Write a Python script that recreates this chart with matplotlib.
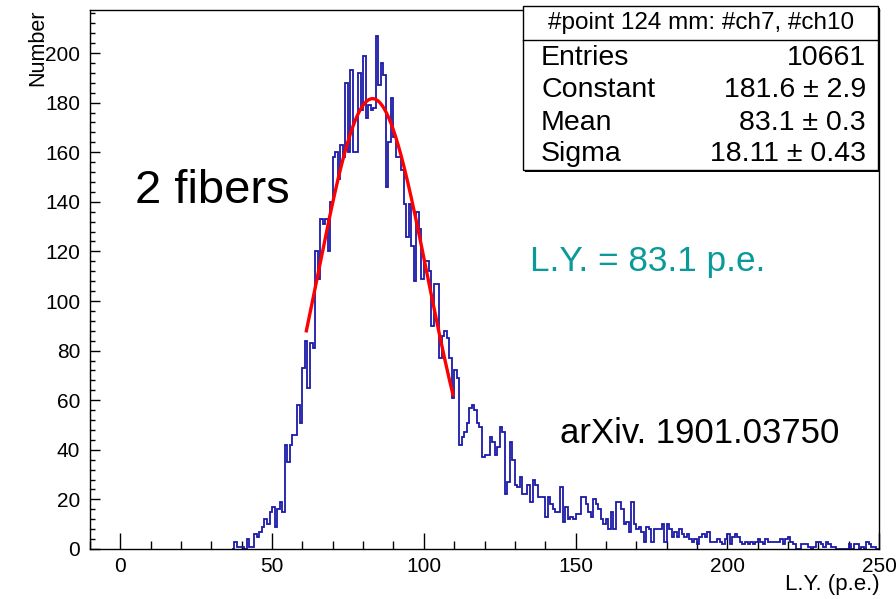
import numpy as np
import matplotlib
matplotlib.use('Agg')
import matplotlib.pyplot as plt
from matplotlib.patches import Rectangle
from matplotlib.lines import Line2D

plt.rcParams['font.family'] = ['Liberation Sans', 'DejaVu Sans']

# ---------------- data ----------------
bin_width = 5.0 / 6.0            # 312 bins over [-10, 250]
first_edge = 36.0 + 2.0 / 3.0    # lower edge of first listed bin
counts = [
    0, 3, 1, 1, 1, 0, 4, 1, 1, 6, 5, 7, 9, 12, 10, 15, 17, 9, 16, 19, 15,
    42, 35, 42, 46, 46, 58, 51, 73, 84, 65, 83, 81,
    120, 109, 133, 131, 133, 120, 140, 158, 160, 149, 163, 158, 188, 160, 193,
    160, 160, 192, 177, 199, 174, 179, 177, 178, 207, 187, 196, 191, 146, 164,
    182, 166, 158, 158, 153, 139, 126, 139, 122, 108, 136, 129, 109, 116, 116,
    112, 90, 107, 107, 77, 86, 88, 85, 77, 61, 72, 69,
    42, 45, 47, 51, 57, 58, 56, 51, 49, 37, 38, 38, 45, 43, 38, 41, 49, 47,
    22, 27, 43, 36, 26, 25, 29, 22, 22, 26, 19, 28, 26, 21, 21, 21,
    13, 21, 18, 16, 15, 15, 25, 11, 17, 12, 13, 12, 14, 14, 21, 21, 18, 15,
    13, 20, 18, 16, 12, 10, 12, 8, 15, 8, 19, 19, 16, 10, 11, 7, 19, 10, 8,
    9, 7, 3, 9, 8, 3, 8, 8, 8, 10, 3, 10, 8, 5, 7, 5, 8, 6, 5, 6, 4, 3, 4, 2,
    5, 6, 5, 7, 3, 3, 3, 4, 3, 2, 4, 6, 2, 5, 6, 5, 3, 2, 3, 2, 3, 2, 3, 4,
    3, 2, 4, 3, 3, 3, 3, 3, 4, 2, 4, 5, 3, 2, 0, 0, 2, 2, 2, 1, 0, 1, 3, 3,
    2, 1, 3, 2, 1, 1, 0, 0, 0, 0, 0, 2, 0, 2, 2, 0, 1, 0, 3, 2, 1, 1, 0,
]
fit_constant = 181.6
fit_mean = 83.1
fit_sigma = 18.11
fit_range = (61.3, 109.6)

x_limits = (-10, 250)
y_max = 217.35
x_major = [0, 50, 100, 150, 200, 250]
y_major = [0, 20, 40, 60, 80, 100, 120, 140, 160, 180, 200]

x_title = "L.Y. (p.e.)"
y_title = "Number"
stats_title = "#point 124 mm: #ch7, #ch10"
stats_labels = ["Entries", "Constant", "Mean", "Sigma"]
stats_values = ["10661", "181.6 \u00b1 2.9", "83.1 \u00b1 0.3", "18.11 \u00b1 0.43"]
note_fibers = "2 fibers"
note_ly = "L.Y. = 83.1 p.e."
note_arxiv = "arXiv. 1901.03750"

# ---------------- figure ----------------
W, H = 896, 599
fig = plt.figure(figsize=(W / 100, H / 100), dpi=100)


def fx(px):
    return px / W


def fy(py):
    return 1 - py / H


ax_l, ax_r, ax_t, ax_b = 90, 879, 10, 549
ax = fig.add_axes([fx(ax_l), fy(ax_b), (ax_r - ax_l) / W, (ax_b - ax_t) / H])

edges = first_edge + bin_width * np.arange(len(counts) + 1)
ax.stairs(counts, edges, color='#1a1aa8', lw=1.3, baseline=0, zorder=2)

xf = np.linspace(fit_range[0], fit_range[1], 400)
ax.plot(xf, fit_constant * np.exp(-0.5 * ((xf - fit_mean) / fit_sigma) ** 2),
        color='#ff0000', lw=2.4, zorder=3)

ax.set_xlim(*x_limits)
ax.set_ylim(0, y_max)
ax.set_xticks(x_major)
ax.set_xticks(np.arange(-10, 251, 10), minor=True)
ax.set_yticks(y_major)
ax.set_yticks(np.arange(0, 217, 4), minor=True)
ax.set_xticklabels([str(v) for v in x_major])
ax.set_yticklabels([str(v) for v in y_major])
ax.tick_params(axis='both', which='both', direction='in', labelsize=15,
               top=False, right=False, width=1, color='black')
ax.tick_params(axis='x', which='major', length=11.5, pad=6)
ax.tick_params(axis='x', which='minor', length=5.8)
ax.tick_params(axis='y', which='major', length=7.5, pad=7)
ax.tick_params(axis='y', which='minor', length=3.8)
for s in ax.spines.values():
    s.set_linewidth(1.0)
    s.set_color('black')
    s.set_zorder(5)

# axis titles
fig.text(fx(ax_r + 1), fy(590), x_title, ha='right', va='baseline', fontsize=16)
fig.text(fx(27), fy(ax_t), y_title, ha='right', va='top', rotation=90,
         fontsize=15.5, rotation_mode='anchor')

# ---------------- stats box ----------------
bx0, by0, bx1, by1 = 523, 6, 878, 170
sep_y = 40
shadow = Rectangle((fx(bx0 + 2), fy(by1 + 2)), (bx1 - bx0) / W, (by1 - by0) / H,
                   transform=fig.transFigure, facecolor='black', edgecolor='black',
                   lw=0, zorder=6)
fig.add_artist(shadow)
box = Rectangle((fx(bx0), fy(by1)), (bx1 - bx0) / W, (by1 - by0) / H,
                transform=fig.transFigure, facecolor='white', edgecolor='black',
                lw=1.0, zorder=7)
fig.add_artist(box)
fig.add_artist(Line2D([fx(bx0), fx(bx1)], [fy(sep_y), fy(sep_y)],
                      transform=fig.transFigure, color='black', lw=1.0, zorder=8))
fig.text(fx((bx0 + bx1) / 2 + 1), fy(23), stats_title, ha='center', va='center',
         fontsize=17.5, zorder=9)
row_y = [58, 90, 123, 154]
for lab, val, yy in zip(stats_labels, stats_values, row_y):
    fig.text(fx(541), fy(yy), lab, ha='left', va='center', fontsize=20.5, zorder=9)
    fig.text(fx(866), fy(yy), val, ha='right', va='center', fontsize=20.5, zorder=9)

# ---------------- annotations ----------------
fig.text(fx(135), fy(203), note_fibers, ha='left', va='baseline', fontsize=34)
fig.text(fx(530), fy(271), note_ly, ha='left', va='baseline', fontsize=25.3,
         color='#0a9a9a')
fig.text(fx(560), fy(443), note_arxiv, ha='left', va='baseline', fontsize=25)

fig.savefig('out.png', dpi=100)
